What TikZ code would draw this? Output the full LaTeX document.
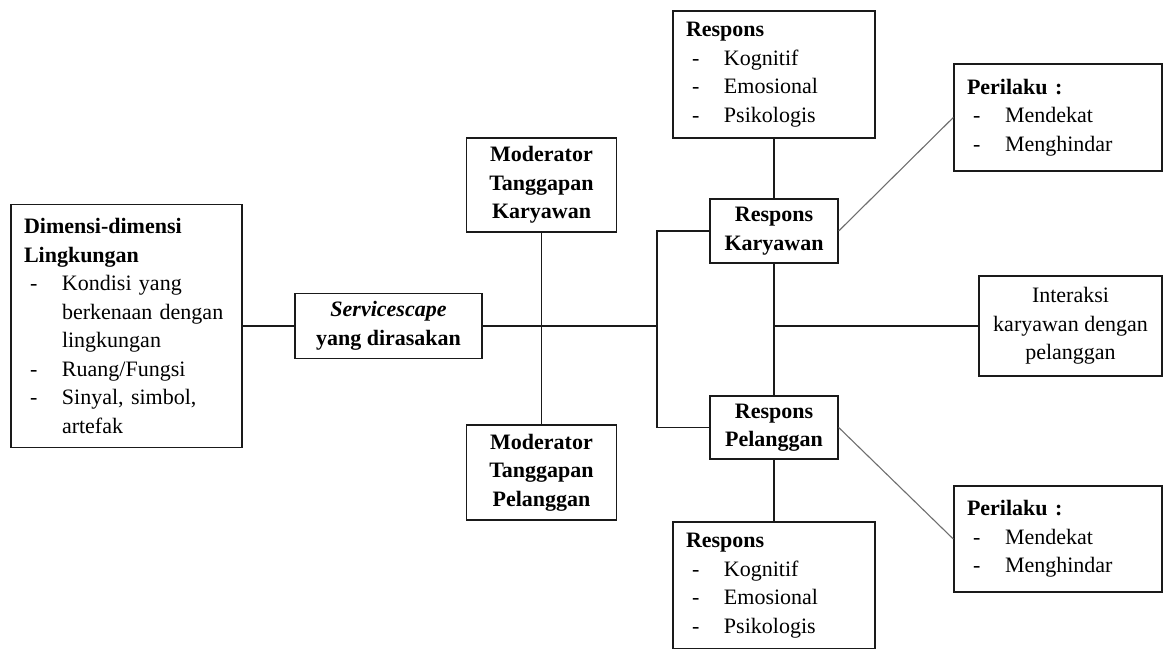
\documentclass[tikz,border=0pt]{standalone}
\usepackage{fontspec}
\setmainfont{Liberation Serif}
\usepackage{tikz}
\usetikzlibrary{positioning,calc}
\definecolor{garis}{HTML}{1A1A1A}
\definecolor{miring}{HTML}{6E6E6E}
\newcommand{\butir}[1]{\makebox[38pt][l]{\hspace{6pt}-}#1}
\newcommand{\lanjut}[1]{\hspace*{38pt}#1}

\begin{document}
\begin{tikzpicture}[x=1pt,y=-1pt,
  kotak/.style={draw=garis,line width=1.4pt,inner sep=0pt,
    font=\fontsize{22}{28.5}\selectfont},
  tengah/.style={kotak,align=center},
  daftar/.style={kotak,align=left,inner xsep=13pt},
  hubung/.style={garis,line width=1.4pt},
  serong/.style={miring,line width=1.1pt}]
  \useasboundingbox (0,0) rectangle (1164,648);
  \node[daftar,minimum width=231,minimum height=243,text width=205] (dimensi) at (126.5,326)
    {\textbf{Dimensi-dimensi}\\ \textbf{Lingkungan}\\ \butir{Kondisi yang}\\ \lanjut{berkenaan dengan}\\
     \lanjut{lingkungan}\\ \butir{Ruang/Fungsi}\\ \butir{Sinyal, simbol,}\\ \lanjut{artefak}};
  \node[tengah,minimum width=187,minimum height=65] (servicescape) at (388.5,326)
    {\textbf{\textit{Servicescape}}\\ \textbf{yang dirasakan}};
  \node[tengah,minimum width=150,minimum height=94] (modK) at (541.5,185)
    {\textbf{Moderator}\\ \textbf{Tanggapan}\\ \textbf{Karyawan}};
  \node[tengah,minimum width=150,minimum height=95] (modP) at (541.5,472.5)
    {\textbf{Moderator}\\ \textbf{Tanggapan}\\ \textbf{Pelanggan}};
  \node[tengah,minimum width=128,minimum height=64] (resK) at (774,231)
    {\textbf{Respons}\\ \textbf{Karyawan}};
  \node[tengah,minimum width=128,minimum height=63] (resP) at (774,427.5)
    {\textbf{Respons}\\ \textbf{Pelanggan}};
  \node[daftar,minimum width=202,minimum height=127,text width=176] (responsA) at (774,74.5)
    {\textbf{Respons}\\ \butir{Kognitif}\\ \butir{Emosional}\\ \butir{Psikologis}};
  \node[daftar,minimum width=202,minimum height=127,text width=176] (responsB) at (774,585.5)
    {\textbf{Respons}\\ \butir{Kognitif}\\ \butir{Emosional}\\ \butir{Psikologis}};
  \node[daftar,minimum width=208,minimum height=107,text width=182] (perilakuA) at (1058,117.5)
    {\textbf{Perilaku :}\\ \butir{Mendekat}\\ \butir{Menghindar}};
  \node[daftar,minimum width=208,minimum height=106,text width=182] (perilakuB) at (1058,539)
    {\textbf{Perilaku :}\\ \butir{Mendekat}\\ \butir{Menghindar}};
  \node[tengah,minimum width=183,minimum height=100] (interaksi) at (1070.5,326)
    {Interaksi\\ karyawan dengan\\ pelanggan};
  \coordinate (cabang) at (657,326);
  \draw[hubung] (dimensi.east) -- (servicescape.west);
  \draw[hubung] (servicescape.east) -- (cabang);
  \draw[hubung] (modK) -- (modP);
  \draw[hubung] (resK.west) -| (cabang) |- (resP.west);
  \draw[hubung] (responsA) -- (resK);
  \draw[hubung] (resK) -- (resP);
  \draw[hubung] (resP) -- (responsB);
  \draw[hubung] (interaksi.west) -- (interaksi.west -| resK);
  \draw[serong] (resK.east) -- (perilakuA.west);
  \draw[serong] (resP.east) -- (perilakuB.west);
\end{tikzpicture}
\end{document}
